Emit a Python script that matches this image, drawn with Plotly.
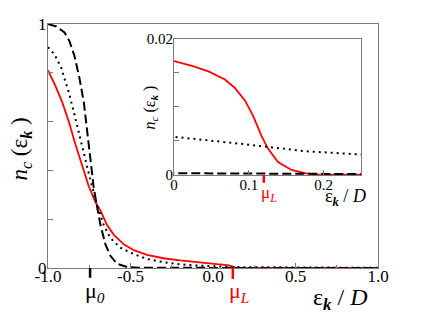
import plotly.graph_objects as go

# momentum distribution n_c(eps_k), three curves
eps_red = [-1.0, -0.955, -0.914, -0.874, -0.834, -0.793, -0.753, -0.713, -0.682, -0.642,
           -0.602, -0.541, -0.48, -0.4, -0.3, -0.2, -0.1, -0.05, 0.0, 0.024, 0.046, 0.068,
           0.081, 0.095, 0.106, 0.117, 0.126, 0.139, 0.157, 0.175, 0.19, 0.25, 1.0]
n_red = [0.81, 0.746, 0.68, 0.60, 0.507, 0.415, 0.335, 0.27, 0.235, 0.176,
         0.137, 0.097, 0.073, 0.054, 0.040, 0.031, 0.023, 0.0195, 0.0167, 0.016, 0.0152, 0.014,
         0.0128, 0.0109, 0.0086, 0.0057, 0.0038, 0.0019, 0.00075, 0.00028, 0.00005, 0.0, 0.0]

eps_dot = [-1.0, -0.96, -0.92, -0.874, -0.834, -0.793, -0.753, -0.713, -0.693, -0.662,
           -0.622, -0.561, -0.48, -0.4, -0.3, -0.2, -0.1, 0.0, 0.088, 0.175, 0.25, 0.5, 0.75, 1.0]
n_dot = [0.905, 0.875, 0.82, 0.72, 0.613, 0.494, 0.388, 0.282, 0.24, 0.176,
         0.123, 0.083, 0.057, 0.037, 0.024, 0.015, 0.010, 0.0056, 0.0046, 0.0035, 0.0030, 0.0018, 0.001, 0.0006]

eps_dash = [-1.0, -0.95, -0.9, -0.87, -0.84, -0.81, -0.783, -0.763, -0.743, -0.723, -0.705,
            -0.682, -0.652, -0.622, -0.581, -0.52, -0.45, -0.3, 0.0, 0.25, 1.0]
n_dash = [1.0, 0.99, 0.965, 0.93, 0.87, 0.78, 0.68, 0.56, 0.43, 0.33, 0.26,
          0.176, 0.097, 0.05, 0.017, 0.004, 0.001, 0.0004, 0.00025, 0.00015, 0.0]

mu_0 = -0.745
mu_L = 0.12

main_xticks = [-1.0, -0.5, 0.0, 0.5, 1.0]
main_xlabels = ["-1.0", "-0.5", "0.0", "0.5", "1.0"]
main_yticks = [0, 1]
main_ylabels = ["0", "1"]
inset_xticks = [0, 0.1, 0.2]
inset_xlabels = ["0", "0.1", "0.2"]
inset_yticks = [0, 0.02]
inset_ylabels = ["0", "0.02"]

FONT = "Liberation Serif"
GRAY = "#7a7a7a"
inset_xdom = [0.382, 0.9486]
inset_ydom = [0.381, 0.94]

curves = [
    (eps_red, n_red, dict(color="#ff0000", width=1.8)),
    (eps_dot, n_dot, dict(color="black", width=2, dash="2px,4px")),
    (eps_dash, n_dash, dict(color="black", width=2, dash="9px,4px")),
]

fig = go.Figure()
for xs, ys, ln in curves:
    fig.add_trace(go.Scatter(x=xs, y=ys, mode="lines", line=ln, xaxis="x", yaxis="y"))
for xs, ys, ln in curves:
    fig.add_trace(go.Scatter(x=xs, y=ys, mode="lines", line=ln, xaxis="x2", yaxis="y2"))

axis_common = dict(showline=True, mirror=True, linecolor=GRAY, linewidth=1,
                   ticks="inside", tickcolor=GRAY, ticklen=5, showgrid=False, zeroline=False)
main_font = dict(family=FONT, size=17, color="black")
inset_font = dict(family=FONT, size=15, color="black")

# page body has an 8px margin, so the figure is 8px smaller than the window
fig.update_layout(
    width=415, height=319,
    margin=dict(l=39.5, r=44.5, t=8, b=59),
    paper_bgcolor="white", plot_bgcolor="white",
    showlegend=False,
    font=dict(family=FONT),
    xaxis=dict(axis_common, range=[-1, 1], tickvals=main_xticks, ticktext=main_xlabels,
               ticklabelstandoff=-7, tickfont=main_font,
               minor=dict(dtick=0.25, tick0=0, ticks="inside", ticklen=3, tickcolor=GRAY)),
    yaxis=dict(axis_common, range=[0, 1], tickvals=main_yticks, ticktext=main_ylabels,
               ticklabelstandoff=-3, tickfont=main_font,
               minor=dict(dtick=0.2, tick0=0, ticks="inside", ticklen=5, tickcolor=GRAY)),
    xaxis2=dict(axis_common, domain=inset_xdom, anchor="y2", range=[0, 0.25],
                tickvals=inset_xticks, ticktext=inset_xlabels, ticklabelstandoff=-4,
                tickfont=inset_font),
    yaxis2=dict(axis_common, domain=inset_ydom, anchor="x2", range=[0, 0.02],
                tickvals=inset_yticks, ticktext=inset_ylabels, ticklabelstandoff=-3,
                tickfont=inset_font,
                minor=dict(dtick=0.005, tick0=0, ticks="inside", ticklen=5, tickcolor=GRAY)),
)

# chemical potential markers
fig.add_shape(type="line", xref="x", yref="paper", x0=mu_0, x1=mu_0, y0=0, y1=-0.04,
              line=dict(color="black", width=2.5))
fig.add_shape(type="line", xref="x", yref="paper", x0=mu_L, x1=mu_L, y0=0, y1=-0.045,
              line=dict(color="#ff0000", width=2.5))
fig.add_shape(type="line", xref="x2", yref="paper", x0=mu_L, x1=mu_L,
              y0=inset_ydom[0], y1=inset_ydom[0] - 0.032,
              line=dict(color="#ff0000", width=2.5))

ytitle = "<i>n</i><sub><i>c</i></sub> (ε<sub><b><i>k</i></b></sub> )"
xtitle = "ε<sub><b><i>k</i></b></sub> / <i>D</i>"

ann = [
    dict(text=ytitle, x=-0.083, y=0.488, textangle=-90, xanchor="center",
         font=dict(family=FONT, size=23, color="black")),
    dict(text=ytitle, x=0.31, y=0.659, textangle=-90, xanchor="center",
         font=dict(family=FONT, size=16, color="black")),
    dict(text=xtitle, x=0.884, y=-0.125, xanchor="center",
         font=dict(family=FONT, size=24, color="black")),
    dict(text=xtitle, x=0.902, y=0.29, xanchor="center",
         font=dict(family=FONT, size=18, color="black")),
]
for a in ann:
    fig.add_annotation(showarrow=False, yanchor="middle", xref="paper", yref="paper", **a)

mu_labels = [
    ("μ<sub><i>0</i></sub>", mu_0, -0.1, "x", -7, 22, "black"),
    ("μ<sub><i>L</i></sub>", mu_L, -0.1, "x", -6, 22, "#ff0000"),
    ("μ<sub><i>L</i></sub>", mu_L, 0.302, "x2", -5, 17, "#ff0000"),
]
for txt, xv, yv, xr, shift, size, col in mu_labels:
    fig.add_annotation(text=txt, x=xv, y=yv, xref=xr, yref="paper", showarrow=False,
                       xanchor="left", yanchor="middle", xshift=shift,
                       font=dict(family=FONT, size=size, color=col))

fig.write_html("out.html")
